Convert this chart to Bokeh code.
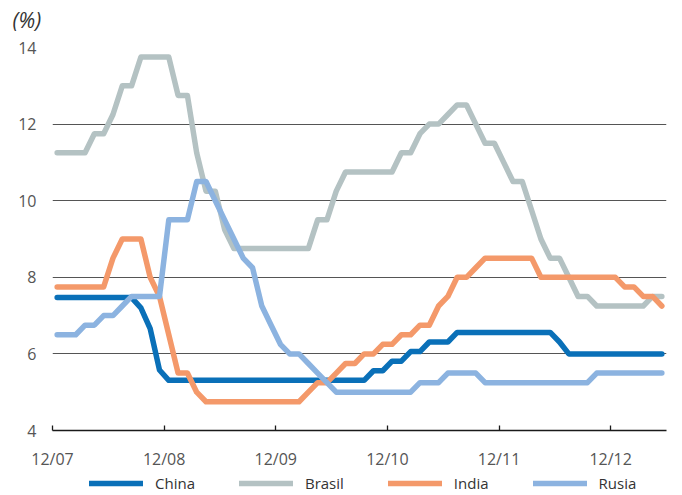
from bokeh.plotting import figure
from bokeh.layouts import column
from bokeh.models import Range1d, FixedTicker, Legend, LegendItem
from bokeh.core.properties import value
from bokeh.embed import file_html
from bokeh.resources import INLINE

# Monthly values, Dec 2007 (index 0) to May 2013 (index 65)
china = ([7.47] * 9 + [7.20, 6.66, 5.58] + [5.31] * 22 + [5.56] * 2 + [5.81] * 2
         + [6.06] * 2 + [6.31] * 3 + [6.56] * 11 + [6.31] + [6.00] * 11)
brasil = ([11.25] * 4 + [11.75] * 2 + [12.25] + [13.0] * 2 + [13.75] * 4 + [12.75] * 2
          + [11.25] + [10.25] * 2 + [9.25] + [8.75] * 9 + [9.5] * 2 + [10.25] + [10.75] * 6
          + [11.25] * 2 + [11.75] + [12.0] * 2 + [12.25] + [12.5] * 2 + [12.0] + [11.5] * 2
          + [11.0] + [10.5] * 2 + [9.75] + [9.0] + [8.5] * 2 + [8.0] + [7.5] * 2 + [7.25] * 6
          + [7.5] * 2)
india = ([7.75] * 6 + [8.5] + [9.0] * 3 + [8.0, 7.5, 6.5] + [5.5] * 2 + [5.0] + [4.75] * 11
         + [5.0] + [5.25] * 2 + [5.5] + [5.75] * 2 + [6.0] * 2 + [6.25] * 2 + [6.5] * 2
         + [6.75] * 2 + [7.25, 7.5] + [8.0] * 2 + [8.25] + [8.5] * 6 + [8.0] * 9 + [7.75] * 2
         + [7.5] * 2 + [7.25])
rusia = ([6.5] * 3 + [6.75] * 2 + [7.0] * 2 + [7.25] + [7.5] * 4 + [9.5] * 3 + [10.5] * 2
         + [10.0, 9.5, 9.0, 8.5, 8.25, 7.25, 6.75, 6.25] + [6.0] * 2 + [5.75, 5.5, 5.25]
         + [5.0] * 9 + [5.25] * 3 + [5.5] * 4 + [5.25] * 12 + [5.5] * 8)

tick_labels = ["12/07", "12/08", "12/09", "12/10", "12/11", "12/12"]
series_names = ["China", "Brasil", "India", "Rusia"]
series_values = [china, brasil, india, rusia]
colors = ["#0a70b8", "#b4c2c3", "#f4996a", "#8cb3e0"]
y_ticks = [4, 6, 8, 10, 12, 14]
unit_label = "(%)"

n = len(china)
xs = [i + 0.5 for i in range(n)]

FONT = "Open Sans"
W = 682
HEAD_H = 36

def bare(fig):
    fig.outline_line_color = None
    fig.background_fill_color = "white"
    fig.border_fill_color = "white"
    fig.xgrid.grid_line_color = None
    fig.ygrid.grid_line_color = None

# header with the unit label
head = figure(width=W, height=HEAD_H, output_backend="svg", toolbar_location=None,
              x_range=Range1d(0, W), y_range=Range1d(HEAD_H, 0),
              x_axis_location=None, y_axis_location=None, frame_align=False,
              min_border_left=0, min_border_right=0, min_border_top=0, min_border_bottom=0)
bare(head)
head.text(x=[12], y=[19], text=[unit_label], text_font=value(FONT), text_font_style="italic",
          text_font_size="21px", text_color="#333333", text_align="left", text_baseline="middle")

# main chart
p = figure(width=W, height=436, output_backend="svg", toolbar_location=None,
           x_range=Range1d(0, n), y_range=Range1d(4, 14), frame_align=False,
           min_border_left=52, min_border_right=16, min_border_top=11, min_border_bottom=41)
bare(p)

p.xaxis.ticker = FixedTicker(ticks=[12 * i for i in range(len(tick_labels))])
p.xaxis.major_label_overrides = {12 * i: lab for i, lab in enumerate(tick_labels)}
p.xaxis.axis_line_color = "#1a1a1a"
p.xaxis.axis_line_width = 1.5
p.xaxis.major_tick_in = 5
p.xaxis.major_tick_out = 0
p.xaxis.major_tick_line_color = "#1a1a1a"
p.xaxis.major_tick_line_width = 1.3
p.xaxis.minor_tick_line_color = None
p.xaxis.major_label_standoff = 17
p.xaxis.major_label_text_font = FONT
p.xaxis.major_label_text_font_size = "16px"
p.xaxis.major_label_text_color = "#555555"

p.yaxis.ticker = FixedTicker(ticks=y_ticks)
p.yaxis.axis_line_color = None
p.yaxis.major_tick_line_color = None
p.yaxis.minor_tick_line_color = None
p.yaxis.major_tick_in = 0
p.yaxis.major_tick_out = 0
p.yaxis.major_label_standoff = 16
p.yaxis.major_label_text_font = FONT
p.yaxis.major_label_text_font_size = "16px"
p.yaxis.major_label_text_color = "#555555"

p.ygrid.ticker = FixedTicker(ticks=y_ticks[1:])
p.ygrid.grid_line_color = "#555555"
p.ygrid.grid_line_width = 1.2

for name, vals, col in zip(series_names, series_values, colors):
    p.line(xs, vals, line_color=col, line_width=5.5, line_cap="round", line_join="round")

# legend strip (sample lines lie outside the strip's ranges; only their legend glyphs show)
leg = figure(width=W, height=23, output_backend="svg", toolbar_location=None,
             x_range=Range1d(0, 1), y_range=Range1d(0, 1),
             x_axis_location=None, y_axis_location=None, frame_align=False,
             min_border_left=0, min_border_right=0, min_border_top=0, min_border_bottom=0)
bare(leg)
items = []
for name, col in zip(series_names, colors):
    r = leg.line([-10, -9], [-10, -10], line_color=col, line_width=5.5, line_cap="round")
    items.append(LegendItem(label=name, renderers=[r]))
legend = Legend(items=items, location=(89, 2), orientation="horizontal",
                glyph_width=54, glyph_height=16, label_height=16, label_standoff=12,
                spacing=44, padding=0, margin=0,
                border_line_color=None, background_fill_alpha=0,
                label_text_font=FONT, label_text_font_size="15px", label_text_color="#333333")
leg.add_layout(legend)

layout = column(head, p, leg, spacing=0)
open("out.html", "w").write(file_html(layout, INLINE))
